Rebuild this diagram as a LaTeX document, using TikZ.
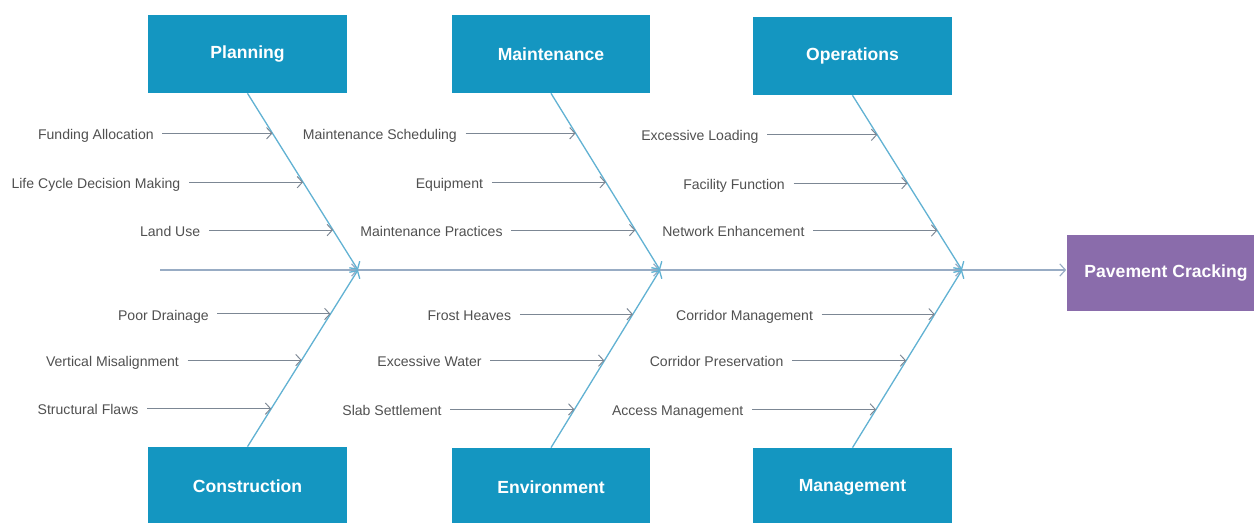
\documentclass[tikz,border=0pt]{standalone}
\usepackage{fontspec}
\setmainfont{Liberation Sans}
\usepackage{tikz}
\usetikzlibrary{calc,arrows.meta,positioning}
\definecolor{BoneBox}{HTML}{1496C1}
\definecolor{HeadBox}{HTML}{8A6CAB}
\definecolor{RibLine}{HTML}{62B2D3}
\definecolor{SpineLine}{HTML}{98ACC4}
\definecolor{CauseLine}{HTML}{7C8794}
\definecolor{CauseText}{HTML}{505050}
\tikzset{
  catbox/.style={fill=BoneBox,text=white,font=\bfseries\fontsize{10}{12}\selectfont,
    minimum width=3.98cm,minimum height=1.56cm,inner sep=0pt},
  headbox/.style={catbox,fill=HeadBox,minimum height=1.52cm},
  cause/.style={font=\fontsize{8}{10}\selectfont,text=CauseText,anchor=east,
    text height=1.3ex,text depth=0pt,inner xsep=4.8pt,inner ysep=1pt},
  causearrow/.style={draw=CauseLine,line width=0.55pt,
    -{Straight Barb[length=3pt,width=6.5pt]}},
  rib/.style={draw=RibLine,line width=0.75pt,-{Straight Barb[length=3.2pt,width=7pt]}},
  spine/.style={draw=SpineLine,line width=0.65pt,-{Straight Barb[length=3.2pt,width=7pt]}}
}

\begin{document}
\begin{tikzpicture}[x=0.02cm,y=0.02cm]
  \useasboundingbox (0,0) rectangle (1254,523);
  % categories
  \node[catbox] (plan)   at (247.5,469) {Planning};
  \node[catbox] (maint)  at (551,469)   {Maintenance};
  \node[catbox] (oper)   at (852.5,467) {Operations};
  \node[catbox] (constr) at (247.5,37)  {Construction};
  \node[catbox] (env)    at (551,36)    {Environment};
  \node[catbox] (mgmt)   at (852.5,36)  {Management};
  % effect
  \node[headbox] (crack) at (1166,250) {Pavement Cracking};
  % spine
  \coordinate (tail) at (160,253);
  \coordinate (j1) at (358,253);
  \coordinate (j2) at (660,253);
  \coordinate (j3) at (962,253);
  \draw[spine] (tail) -- (j1);
  \draw[spine] (j1) -- (j2);
  \draw[spine] (j2) -- (j3);
  \draw[spine] (j3) -- (crack.west |- j3);
  % ribs
  \foreach \b/\j in {plan/j1,maint/j2,oper/j3}
    \draw[rib] (\b.south) -- (\j);
  \foreach \b/\j in {constr/j1,env/j2,mgmt/j3}
    \draw[rib] (\b.north) -- (\j);
  % causes: box/junction/side/fraction/length/text
  \foreach \b/\j/\a/\f/\len/\txt [count=\i] in {
      plan/j1/south/0.226/110/Funding Allocation,
      plan/j1/south/0.503/114/Life Cycle Decision Making,
      plan/j1/south/0.774/124/Land Use,
      maint/j2/south/0.226/110/Maintenance Scheduling,
      maint/j2/south/0.503/114/Equipment,
      maint/j2/south/0.774/124/Maintenance Practices,
      oper/j3/south/0.226/110/Excessive Loading,
      oper/j3/south/0.503/114/Facility Function,
      oper/j3/south/0.774/124/Network Enhancement,
      constr/j1/north/0.751/113/Poor Drainage,
      constr/j1/north/0.490/114/Vertical Misalignment,
      constr/j1/north/0.215/124/Structural Flaws,
      env/j2/north/0.751/113/Frost Heaves,
      env/j2/north/0.490/114/Excessive Water,
      env/j2/north/0.215/124/Slab Settlement,
      mgmt/j3/north/0.751/113/Corridor Management,
      mgmt/j3/north/0.490/114/Corridor Preservation,
      mgmt/j3/north/0.215/124/Access Management}{
    \coordinate (p\i) at ($(\b.\a)!\f!(\j)$);
    \node[cause] (c\i) at ($(p\i)+(-\len,0)$) {\txt};
    \draw[causearrow] (c\i) -- (p\i);
  }
\end{tikzpicture}
\end{document}
